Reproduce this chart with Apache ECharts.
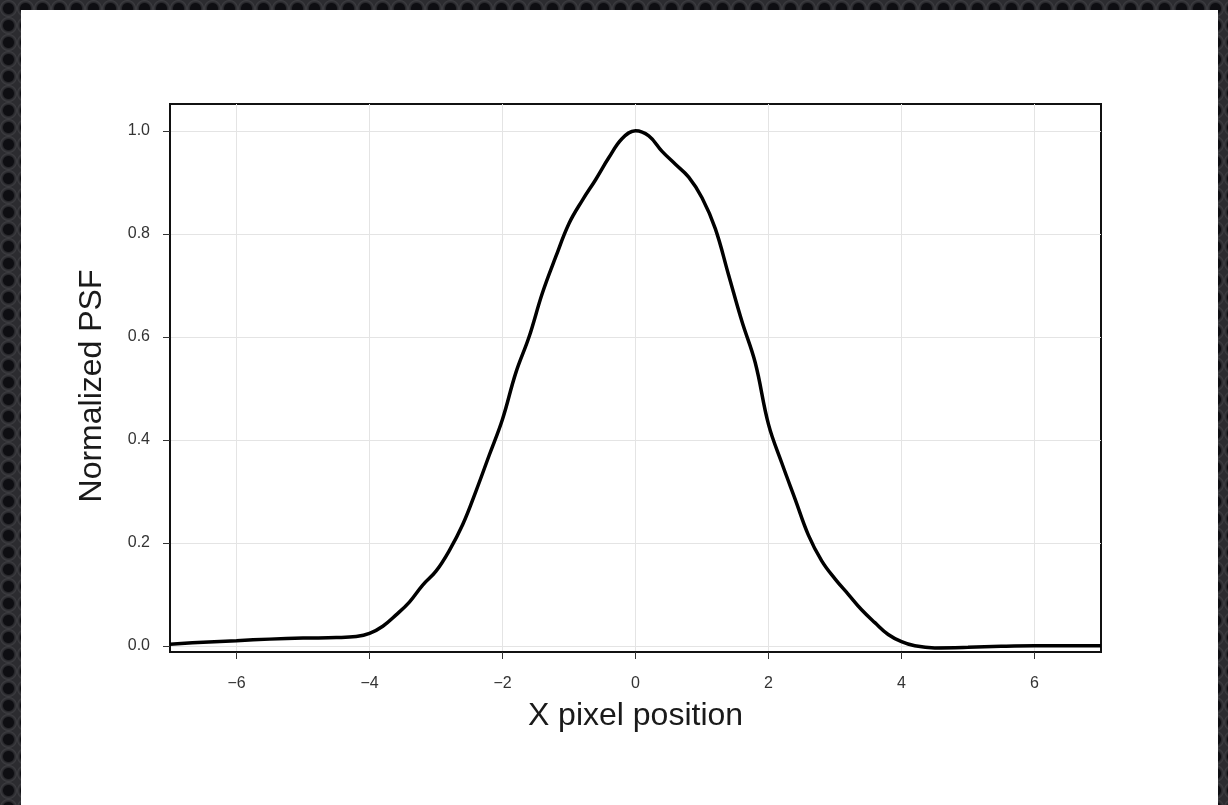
<!DOCTYPE html>
<html>
<head>
<meta charset="utf-8">
<script src="https://cdn.jsdelivr.net/npm/echarts@6/dist/echarts.min.js"></script>
<style>
  html, body { margin: 0; padding: 0; width: 1228px; height: 805px; overflow: hidden; }
  body {
    background-color: #2c2c30;
    background-image: radial-gradient(circle at center, #0e0e12 0 5px, #26262a 6px, #3c3c40 8px, #2c2c30 9px);
    background-size: 17px 17px;
    position: relative;
  }
  #panel { position: absolute; left: 21px; top: 10px; width: 1197px; height: 795px; background: #fff; }
  #chart { position: absolute; left: 0; top: 0; width: 1228px; height: 805px; }
</style>
</head>
<body>
<div id="panel"></div>
<div id="chart"></div>
<script>
// Data
const xPositions = [-7,-6.5,-6,-5.5,-5,-4.5,-4.2,-4,-3.8,-3.6,-3.4,-3.2,-3,-2.8,-2.6,-2.4,-2.2,-2,-1.8,-1.6,-1.4,-1.2,-1,-0.8,-0.6,-0.4,-0.2,0,0.2,0.4,0.6,0.8,1,1.2,1.4,1.6,1.8,2,2.2,2.4,2.6,2.8,3,3.2,3.4,3.6,3.8,4,4.2,4.5,5,5.5,6,6.5,7];
const psfValues = [0.003,0.007,0.010,0.013,0.015,0.016,0.018,0.024,0.038,0.060,0.085,0.118,0.145,0.185,0.235,0.300,0.370,0.440,0.530,0.600,0.685,0.755,0.820,0.865,0.905,0.948,0.985,1.000,0.990,0.960,0.935,0.910,0.870,0.810,0.720,0.630,0.550,0.430,0.355,0.285,0.215,0.165,0.130,0.100,0.070,0.045,0.022,0.008,0.000,-0.004,-0.003,-0.001,0.000,0.000,0.000];
const xTicks = [-6,-4,-2,0,2,4,6];
const yTicks = [0,0.2,0.4,0.6,0.8,1.0];
const xTitle = 'X pixel position';
const yTitle = 'Normalized PSF';

const chart = echarts.init(document.getElementById('chart'), null, { renderer: 'canvas' });
const font = '"Liberation Sans", Arial, Helvetica, sans-serif';
chart.setOption({
  backgroundColor: 'transparent',
  animation: false,
  grid: {
    left: 170, right: 127, top: 104, bottom: 153,
    show: true, borderColor: '#111', borderWidth: 2, backgroundColor: 'transparent'
  },
  xAxis: {
    type: 'value', min: -7, max: 7,
    name: xTitle, nameLocation: 'middle', nameGap: 48,
    nameTextStyle: { fontFamily: font, fontSize: 32, color: '#1a1a1a' },
    axisLine: { show: true, onZero: false, lineStyle: { color: '#111', width: 2 } },
    axisTick: { show: true, length: 7, customValues: xTicks, lineStyle: { color: '#333', width: 1 } },
    axisLabel: { customValues: xTicks, margin: 24, fontFamily: font, fontSize: 16, color: '#333',
      formatter: v => String(v).replace('-', '\u2212') },
    splitLine: { show: true, lineStyle: { color: '#e4e4e4', width: 1 } }
  },
  yAxis: {
    type: 'value', min: -0.012, max: 1.052,
    name: yTitle, nameLocation: 'middle', nameGap: 62, nameRotate: 90,
    nameTextStyle: { fontFamily: font, fontSize: 32, color: '#1a1a1a', padding: [0, 16, 0, 0] },
    axisLine: { show: true, onZero: false, lineStyle: { color: '#111', width: 2 } },
    axisTick: { show: true, length: 7, customValues: yTicks, lineStyle: { color: '#333', width: 1 } },
    axisLabel: { customValues: yTicks, margin: 20, fontFamily: font, fontSize: 16, color: '#333',
      formatter: v => v.toFixed(1) },
    splitLine: { show: true, lineStyle: { color: '#e4e4e4', width: 1 } }
  },
  series: [{
    type: 'line',
    data: xPositions.map((x, i) => [x, psfValues[i]]),
    symbol: 'none',
    smooth: 0.4,
    lineStyle: { color: '#000', width: 3.5 }
  }]
});
</script>
</body>
</html>
